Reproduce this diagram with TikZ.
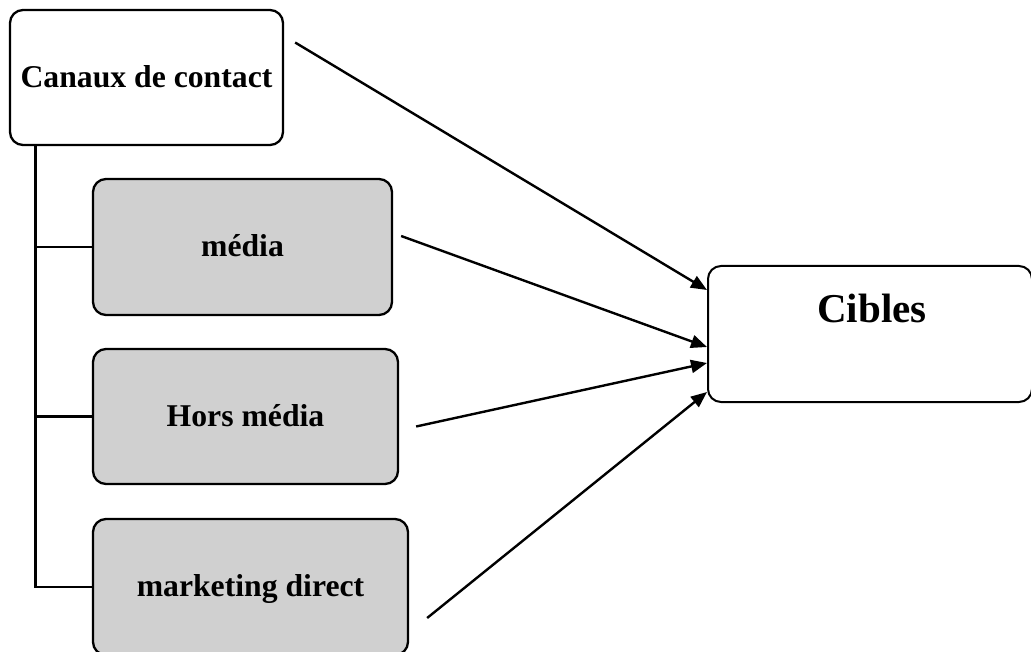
\documentclass[tikz,border=0pt]{standalone}
\usepackage{fontspec}
\setmainfont{Liberation Serif}
\usetikzlibrary{arrows.meta}
\definecolor{boxgray}{HTML}{D0D0D0}
\tikzset{
  box/.style={draw=black, line width=2.3pt, rounded corners=13pt, inner sep=0pt,
    font=\fontsize{31.7}{38}\selectfont\bfseries, text height=19.3pt, text depth=0pt},
  whitebox/.style={box, fill=white},
  graybox/.style={box, fill=boxgray},
  trunkline/.style={line width=3pt},
  branchline/.style={line width=2.4pt},
  link/.style={line width=2.4pt, -{Triangle[length=16pt,width=13pt]}},
}
\begin{document}
\begin{tikzpicture}[x=1pt,y=-1pt]
\useasboundingbox (0,0) rectangle (1031,652);

% source and branch boxes
\node[whitebox, minimum width=273pt, minimum height=135pt] (canaux) at (146.5,77.5) {Canaux de contact};
\node[graybox, minimum width=299pt, minimum height=136pt] (media) at (242.5,247) {média};
\node[graybox, minimum width=305pt, minimum height=135pt] (hors) at (245.5,416.5) {Hors média};
\node[graybox, minimum width=315pt, minimum height=136pt] (market) at (250.5,587) {marketing direct};

% target box
\node[whitebox, line width=2pt, minimum width=324pt, minimum height=136pt] (cibles) at (870,334) {};
\node[font=\fontsize{41}{48}\selectfont\bfseries, anchor=base, inner sep=0pt] (ciblestext) at (872,323) {Cibles};

% tree connecting the channels
\coordinate (trunk) at ([xshift=27pt]canaux.south west);
\draw[trunkline] (trunk) -- (trunk |- market.west);
\draw[branchline] (trunk |- media.west) -- (media.west);
\draw[branchline] (trunk |- hors.west) -- (hors.west);
\draw[branchline] ([xshift=-1.5pt]trunk |- market.west) -- (market.west);

% arrows towards the targets
\draw[link] ([shift={(11,-35)}]canaux.east) -- ([yshift=44pt]cibles.west);
\draw[link] ([shift={(8,-11)}]media.east) -- ([yshift=-13pt]cibles.west);
\draw[link] ([shift={(17,10)}]hors.east) -- ([yshift=-29pt]cibles.west);
\draw[link] ([shift={(18,31)}]market.east) -- ([yshift=-58pt]cibles.west);
\end{tikzpicture}
\end{document}
